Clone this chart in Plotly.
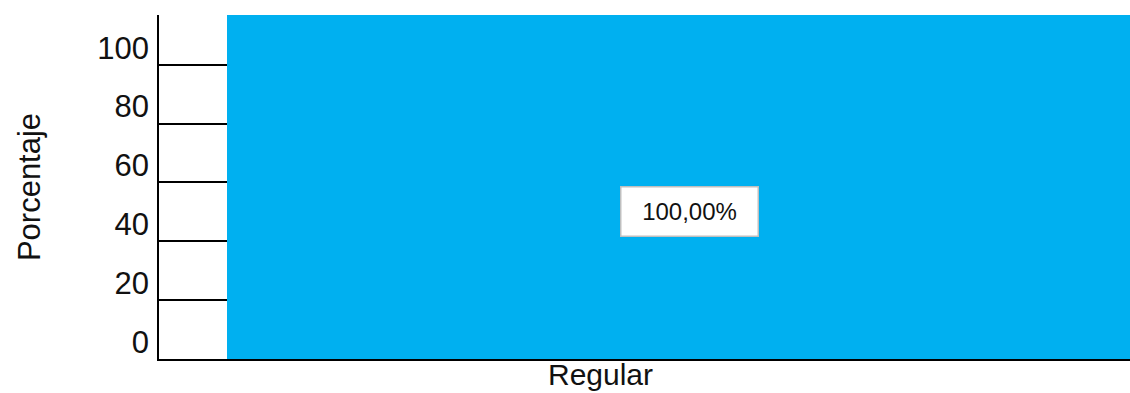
import plotly.graph_objects as go

categories = ["Regular"]
percentages = [100.0]
y_ticks = [0, 20, 40, 60, 80, 100]
bar_labels = ["100,00%"]

FONT = "Liberation Sans, Arial, sans-serif"

fig = go.Figure()

# invisible helper trace so the tick axis (y) is active
fig.add_trace(go.Scatter(x=categories, y=[0], mode="markers",
                         marker=dict(opacity=0), hoverinfo="skip",
                         showlegend=False, yaxis="y"))
fig.add_trace(go.Bar(x=categories, y=percentages, width=1.0,
                     marker=dict(color="#00B0F0", line=dict(width=0)),
                     showlegend=False, yaxis="y2"))

for c, v, t in zip(categories, percentages, bar_labels):
    fig.add_annotation(x=c, y=v / 2, xref="x", yref="y", text=t,
                       showarrow=False, xshift=11,
                       font=dict(family=FONT, size=24, color="#111111"),
                       bgcolor="#FFFFFF", bordercolor="#BFBFBF",
                       borderwidth=1.5, width=134, height=46)

fig.update_layout(
    width=1130, height=393,
    margin=dict(l=159, r=0, t=15, b=34),
    paper_bgcolor="white", plot_bgcolor="white",
    font=dict(family=FONT, size=31, color="#111111"),
    bargap=0,
    xaxis=dict(range=[-0.5753, 0.5], showgrid=False, showline=True,
               linecolor="#000000", linewidth=1.5, ticks="",
               automargin=False,
               ticklabelshift=-78, ticklabelstandoff=-12,
               tickfont=dict(family=FONT, size=30, color="#111111")),
    yaxis=dict(range=[0, 116.9], tickvals=y_ticks, showgrid=True,
               gridcolor="#000000", gridwidth=1.5, showline=True,
               linecolor="#000000", linewidth=1.5, ticks="",
               automargin=False,
               zeroline=False, ticklabelshift=-17, ticklabelstandoff=2,
               tickfont=dict(family=FONT, size=31, color="#111111"),
               title=dict(text="Porcentaje", standoff=47,
                          font=dict(family=FONT, size=31, color="#111111"))),
    yaxis2=dict(range=[0, 100], overlaying="y", visible=False),
)

fig.write_html("out.html")
